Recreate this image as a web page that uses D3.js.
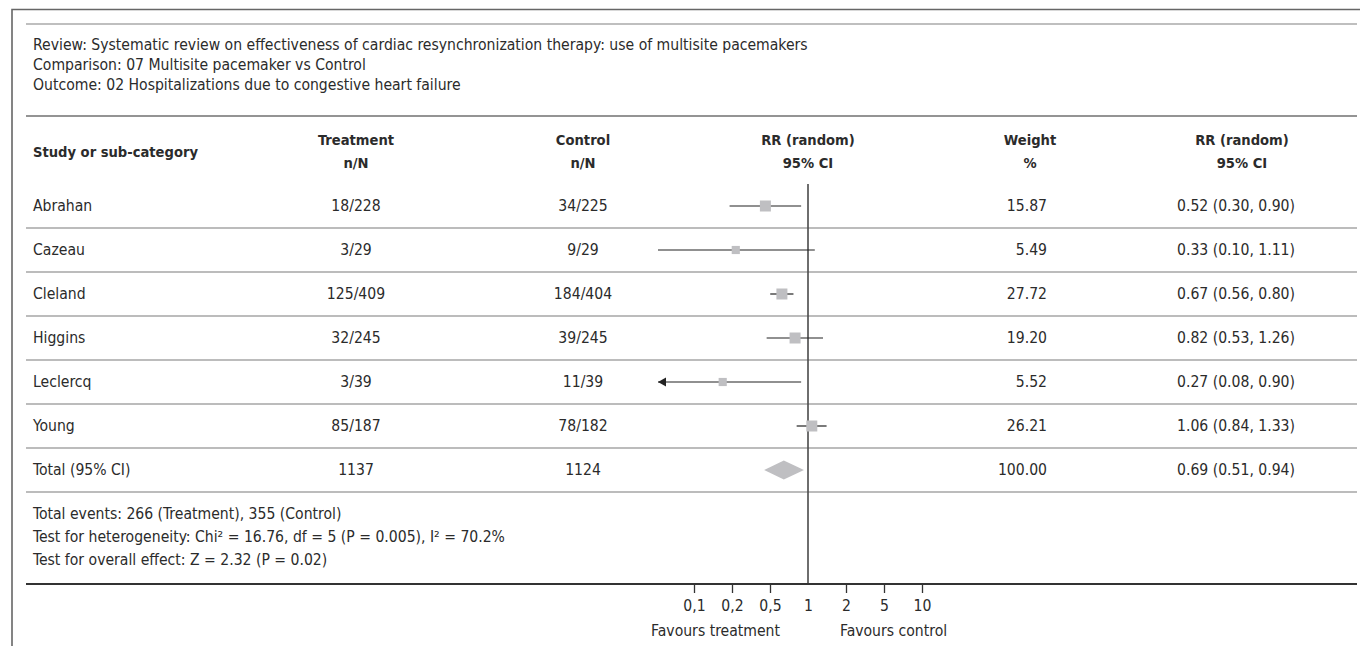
<!DOCTYPE html>
<html lang="en">
<head>
<meta charset="utf-8">
<title>Forest plot - CRT multisite pacemakers</title>
<script src="https://d3js.org/d3.v7.min.js"></script>
<style>
  body { margin: 0; background: #fff; }
  text { font-family: "DejaVu Sans Condensed", "Liberation Sans", Arial, sans-serif; fill: #2b2b2b; }
</style>
</head>
<body>
<div id="chart"></div>
<script>
// ---- data ----
const headerLines = [
  "Review: Systematic review on effectiveness of cardiac resynchronization therapy: use of multisite pacemakers",
  "Comparison: 07 Multisite pacemaker vs Control",
  "Outcome: 02 Hospitalizations due to congestive heart failure"
];
const studies = ["Abrahan", "Cazeau", "Cleland", "Higgins", "Leclercq", "Young"];
const treatEvents = [18, 3, 125, 32, 3, 85];
const treatTotal = [228, 29, 409, 245, 39, 187];
const ctrlEvents = [34, 9, 184, 39, 11, 78];
const ctrlTotal = [225, 29, 404, 245, 39, 182];
const weights = [15.87, 5.49, 27.72, 19.20, 5.52, 26.21];
const rr = [0.52, 0.33, 0.67, 0.82, 0.27, 1.06];
const rrLow = [0.30, 0.10, 0.56, 0.53, 0.08, 0.84];
const rrHigh = [0.90, 1.11, 0.80, 1.26, 0.90, 1.33];
const total = {label: "Total (95% CI)", treat: 1137, ctrl: 1124, weight: 100.00, rr: 0.69, lo: 0.51, hi: 0.94};
const footLines = [
  "Total events: 266 (Treatment), 355 (Control)",
  "Test for heterogeneity: Chi\u00b2 = 16.76, df = 5 (P = 0.005), I\u00b2 = 70.2%",
  "Test for overall effect: Z = 2.32 (P = 0.02)"
];
const tickLabels = ["0,1", "0,2", "0,5", "1", "2", "5", "10"];

const fmt2 = d3.format(".2f");

// ---- layout ----
const W = 1360, H = 646;
const L = 26, R = 1357;
const colTreat = 356, colCtrl = 583, colWeightR = 1047, colWeight = 1030, colRR = 1177, colRRh = 1242;
const rowTop = 184, rowH = 44;
const FS = "15.6px", FSB = "14.6px";

const svg = d3.select("#chart").append("svg")
  .attr("width", W).attr("height", H);

// frame
svg.append("path")
  .attr("d", `M12,${H} V9.5 H${W}`)
  .attr("fill", "none").attr("stroke", "#666").attr("stroke-width", 1.6);

function hline(y, color, w) {
  svg.append("line").attr("x1", L).attr("x2", R).attr("y1", y).attr("y2", y)
    .attr("stroke", color).attr("stroke-width", w);
}

hline(24, "#808080", 1.2);
svg.selectAll(".hd").data(headerLines).join("text")
  .attr("x", 33).attr("y", (d, i) => 45 + i * 20).attr("dy", "0.35em")
  .style("font-size", FS).text(d => d);
hline(116, "#707070", 1.3);

// column headers
const heads = [
  {x: colTreat, a: "Treatment", b: "n/N"},
  {x: colCtrl, a: "Control", b: "n/N"},
  {x: 808, a: "RR (random)", b: "95% CI"},
  {x: colWeight, a: "Weight", b: "%"},
  {x: colRRh, a: "RR (random)", b: "95% CI"}
];
const hg = svg.append("g").style("font-size", FSB).style("font-weight", "bold");
hg.append("text").attr("x", 33).attr("y", 152).attr("dy", "0.35em").text("Study or sub-category");
heads.forEach(h => {
  hg.append("text").attr("x", h.x).attr("y", 140).attr("dy", "0.35em").attr("text-anchor", "middle").text(h.a);
  hg.append("text").attr("x", h.x).attr("y", 163).attr("dy", "0.35em").attr("text-anchor", "middle").text(h.b);
});

// rows
const rows = studies.map((s, i) => ({
  name: s, treat: treatEvents[i] + "/" + treatTotal[i], ctrl: ctrlEvents[i] + "/" + ctrlTotal[i],
  w: weights[i], rr: rr[i], lo: rrLow[i], hi: rrHigh[i]
}));

const x = d3.scaleLog().domain([0.1, 10]).range([658, 958]);
const sz = d3.scaleLinear().domain([5, 15]).range([8, 11]).clamp(true);
const rowY = i => rowTop + rowH * i + rowH / 2;

// row separators
for (let i = 1; i <= rows.length + 1; i++) hline(rowTop + rowH * i, "#7a7a7a", 1.2);

const tg = svg.append("g").style("font-size", FS);
rows.forEach((d, i) => {
  const y = rowY(i);
  tg.append("text").attr("x", 33).attr("y", y).attr("dy", "0.35em").text(d.name);
  tg.append("text").attr("x", colTreat).attr("y", y).attr("dy", "0.35em").attr("text-anchor", "middle").text(d.treat);
  tg.append("text").attr("x", colCtrl).attr("y", y).attr("dy", "0.35em").attr("text-anchor", "middle").text(d.ctrl);
  tg.append("text").attr("x", colWeightR).attr("y", y).attr("dy", "0.35em").attr("text-anchor", "end").text(fmt2(d.w));
  tg.append("text").attr("x", colRR).attr("y", y).attr("dy", "0.35em")
    .text(`${fmt2(d.rr)} (${fmt2(d.lo)}, ${fmt2(d.hi)})`);
});
const ty = rowY(rows.length);
tg.append("text").attr("x", 33).attr("y", ty).attr("dy", "0.35em").text(total.label);
tg.append("text").attr("x", colTreat).attr("y", ty).attr("dy", "0.35em").attr("text-anchor", "middle").text(total.treat);
tg.append("text").attr("x", colCtrl).attr("y", ty).attr("dy", "0.35em").attr("text-anchor", "middle").text(total.ctrl);
tg.append("text").attr("x", colWeightR).attr("y", ty).attr("dy", "0.35em").attr("text-anchor", "end").text(fmt2(total.weight));
tg.append("text").attr("x", colRR).attr("y", ty).attr("dy", "0.35em")
  .text(`${fmt2(total.rr)} (${fmt2(total.lo)}, ${fmt2(total.hi)})`);

// footer text
svg.selectAll(".ft").data(footLines).join("text")
  .attr("x", 33).attr("y", (d, i) => 514 + i * 23).attr("dy", "0.35em")
  .style("font-size", FS).text(d => d);

// null line
const axisY = 584;
svg.append("line").attr("x1", x(1)).attr("x2", x(1)).attr("y1", rowTop).attr("y2", axisY)
  .attr("stroke", "#4a4a4a").attr("stroke-width", 1.6);

// CIs and squares
const pg = svg.append("g");
rows.forEach((d, i) => {
  const y = rowY(i);
  const lo = Math.max(d.lo, x.domain()[0]);
  pg.append("line").attr("x1", x(lo)).attr("x2", x(d.hi)).attr("y1", y).attr("y2", y)
    .attr("stroke", "#222").attr("stroke-width", 1.2);
  if (d.lo < x.domain()[0]) {
    const ax = x(lo);
    pg.append("path").attr("d", `M${ax},${y} l8,-4.5 v9 z`).attr("fill", "#222");
  }
  const s = sz(d.w);
  pg.append("rect").attr("x", x(d.rr) - s / 2).attr("y", y - s / 2)
    .attr("width", s).attr("height", s).attr("fill", "#bfbfc2");
});
// diamond
pg.append("path")
  .attr("d", `M${x(total.lo)},${ty} L${x(total.rr)},${ty - 9.5} L${x(total.hi)},${ty} L${x(total.rr)},${ty + 9.5} Z`)
  .attr("fill", "#bfbfc2");

// bottom rule + axis
hline(axisY, "#333", 2);
const xt = d3.scalePoint().domain(tickLabels).range([694, 922]);
const ag = svg.append("g").attr("transform", `translate(0,${axisY})`)
  .call(d3.axisBottom(xt).tickSize(9).tickPadding(7));
ag.select(".domain").remove();
ag.selectAll(".tick line").attr("stroke", "#333").attr("stroke-width", 1.3);
ag.selectAll(".tick text").style("font-size", FS).attr("fill", "#2b2b2b")
  .style("font-family", "'DejaVu Sans Condensed', 'Liberation Sans', Arial, sans-serif");
ag.selectAll(".tick").filter(d => d === "1").select("line").remove();

svg.append("text").attr("x", x(1) - 28).attr("y", 631).attr("dy", "0.35em").attr("text-anchor", "end")
  .style("font-size", FS).text("Favours treatment");
svg.append("text").attr("x", x(1) + 32).attr("y", 631).attr("dy", "0.35em")
  .style("font-size", FS).text("Favours control");
</script>
</body>
</html>
